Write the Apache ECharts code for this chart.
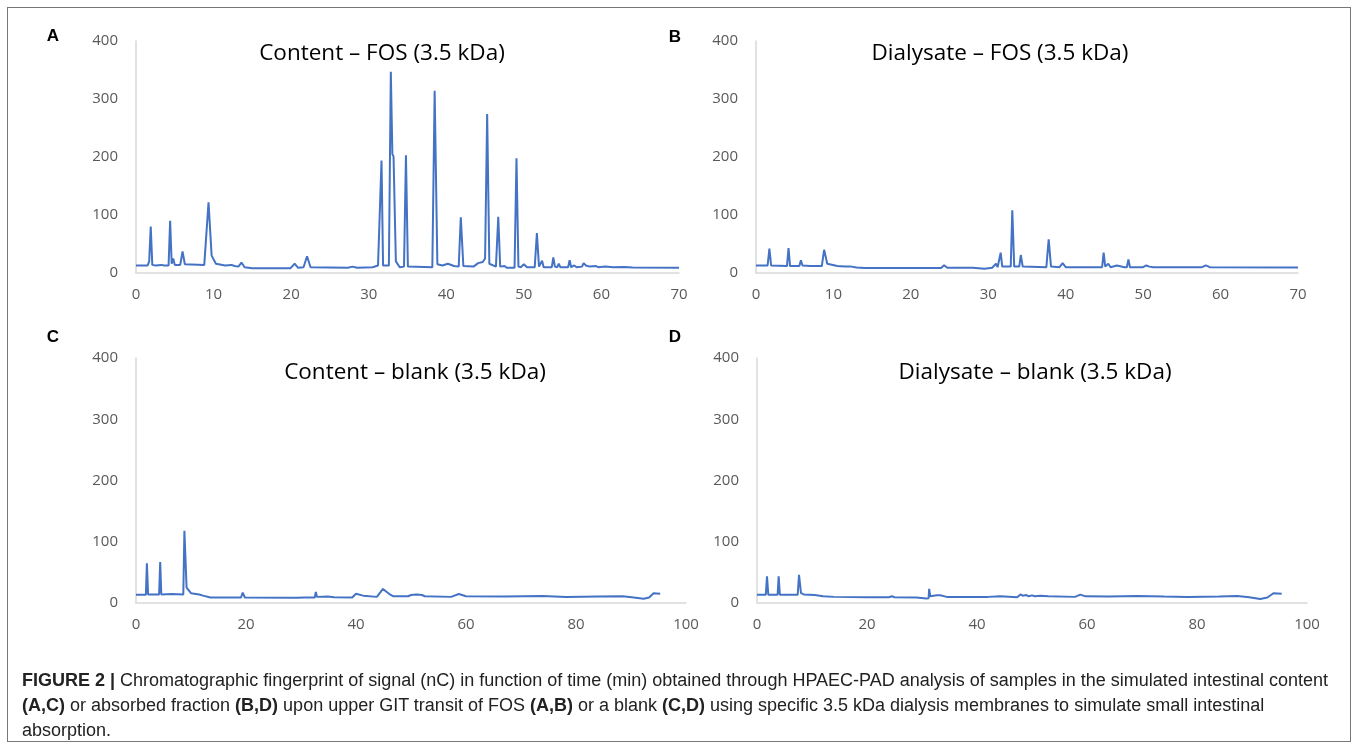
<!DOCTYPE html>
<html>
<head>
<meta charset="utf-8">
<script src="https://cdn.jsdelivr.net/npm/echarts@6/dist/echarts.min.js"></script>
<style>
  html, body { margin: 0; padding: 0; background: #fff; }
  #wrap { position: relative; width: 1358px; height: 750px; }
  #frame {
    position: absolute; left: 7px; top: 7px; width: 1344px; height: 735px;
    border: 1.5px solid #777; box-sizing: border-box;
  }
  #chart { position: absolute; left: 0; top: 0; width: 1358px; height: 750px; }
  #caption {
    position: absolute; left: 22px; top: 668px; width: 1325px;
    font-family: "Liberation Sans", Arial, sans-serif; font-size: 18px;
    line-height: 25px; color: #222; white-space: nowrap;
  }
</style>
</head>
<body>
<div id="wrap">
  <div id="frame"></div>
  <div id="chart"></div>
  <div id="caption"><b>FIGURE 2 |</b> Chromatographic fingerprint of signal (nC) in function of time (min) obtained through HPAEC-PAD analysis of samples in the simulated intestinal content<br><b>(A,C)</b> or absorbed fraction <b>(B,D)</b> upon upper GIT transit of FOS <b>(A,B)</b> or a blank <b>(C,D)</b> using specific 3.5 kDa dialysis membranes to simulate small intestinal<br>absorption.</div>
</div>
<script>
// panel titles / letters
var panelTitles = ['Content – FOS (3.5 kDa)', 'Dialysate – FOS (3.5 kDa)', 'Content – blank (3.5 kDa)', 'Dialysate – blank (3.5 kDa)'];
var panelLetters = ['A', 'B', 'C', 'D'];
var xMaxes = [70, 70, 100, 100];
var xSteps = [10, 10, 20, 20];
var yTicks = [0, 100, 200, 300, 400];

// [time (min), signal (nC)]
var contentFOS = [
  [0,13],[1.5,13],[1.7,20],[1.8,17],[1.9,80],[2.1,14],[2.5,13],[3.3,14],[3.6,13],[4.2,13],[4.4,90],[4.6,16],
  [4.8,25],[5.0,14],[5.7,14],[6.0,37],[6.3,15],[8.8,14],[9.35,122],[9.75,30],[10.3,16],[11.5,13],[12.3,14],
  [12.7,12],[13.2,11],[13.6,18],[14.0,10],[15,8],[19.9,8],[20.45,16],[20.9,9],[21.6,10],[22.05,29],[22.5,10],
  [27.3,9],[27.9,11],[28.5,9],[30.5,10],[31.2,13],[31.45,14],[31.65,194],[31.85,13],[32.6,13],[32.85,347],
  [33.05,205],[33.2,201],[33.5,20],[34.0,10],[34.55,11],[34.8,203],[35.05,11],[38.2,10],[38.5,314],[38.85,15],
  [39.5,13],[40.2,16],[41.0,12],[41.6,11],[41.87,96],[42.2,12],[43.5,11],[44.1,17],[44.7,19],[45.0,25],
  [45.27,274],[45.55,16],[46.4,11],[46.7,97],[46.95,11],[47.5,12],[47.8,9],[48.8,9],[49.05,198],[49.3,11],
  [49.6,10],[50.0,15],[50.4,10],[51.4,10],[51.68,69],[51.95,11],[52.2,10],[52.35,21],[52.55,10],[53.6,10],
  [53.8,27],[54.0,11],[54.3,10],[54.5,16],[54.7,10],[55.7,10],[55.9,22],[56.1,10],[56.5,13],[56.8,10],
  [57.5,11],[57.7,17],[58.0,13],[58.2,15],[58.5,11],[59.3,12],[59.6,10],[60.5,11],[61.5,10],[63,10.5],
  [64,9.5],[70,9]
];
var dialysateFOS = [
  [0,13],[1.5,13],[1.73,42],[1.95,13],[4.0,12],[4.2,43],[4.4,12],[5.6,12],[5.8,22],[6.0,13],[7,12],[8.5,12],
  [8.8,40],[9.2,16],[10.5,12],[11.5,11],[12.3,11],[13,9.5],[14,8.5],[22.1,8.5],[22.3,10],[22.5,8.5],[23.9,8.5],
  [24.3,13.5],[24.7,9],[28,9],[29.5,7.5],[30.5,9],[31.0,16],[31.2,10],[31.45,11],[31.6,35],[31.8,11],[32.9,11],
  [33.1,108],[33.35,11],[34.0,11],[34.2,31],[34.45,11],[37.5,10],[37.8,58],[38.1,11],[39.2,10],[39.6,17],
  [40.0,10],[44.7,10],[44.9,35],[45.1,11],[45.5,16],[45.8,10],[46.6,13],[47.6,10],[47.9,10],[48.1,23.5],
  [48.3,10],[49.4,10],[49.6,12],[50.0,10],[50.4,13],[50.8,11],[51.3,10],[57.6,10],[58.1,13],[58.6,10],[70,9.5]
];
var contentBlank = [
  [0,13.5],[1.8,13.5],[1.98,65],[2.2,14],[4.2,14],[4.4,67],[4.6,14],[6.5,14.5],[8.6,14],[8.8,118],[9.2,25],
  [10,16],[11.5,14],[12.2,12],[13.5,9],[18.2,9],[18.4,11],[18.7,9],[19.1,9],[19.4,17],[19.8,9],[28.7,8.5],
  [28.9,10],[29.2,8.5],[30.8,9],[31.0,12],[31.2,9],[32.5,9],[32.7,18],[32.9,10],[34.9,10.5],[36,9.5],[39.3,9],
  [40.0,15],[41.3,12],[43.8,10],[44.9,23],[46.0,15],[46.8,11],[49.5,11],[50.0,13],[50.3,11],[51.0,14],[51.3,11],
  [52.0,13],[52.5,11],[57.3,10],[58.7,14.7],[60,11],[67,10.5],[74,11.5],[78.2,9.8],[84,10.5],[88.5,11],
  [90.5,9],[92.3,7],[93.3,9],[94.1,16],[95.3,15]
];
var dialysateBlank = [
  [0,13.6],[1.6,13.6],[1.82,43.5],[2.05,13.6],[3.75,13.6],[3.94,43.5],[4.15,13.6],[7.4,13.6],[7.64,46],[8.0,16],
  [8.5,14],[10.5,13],[12,11],[14,10],[20,9.3],[24,9.5],[24.5,11],[25,9.3],[29,9],[30.8,7.5],[31.2,7.8],[31.3,23],
  [31.5,11],[32.7,12.7],[33.3,12.5],[34.5,10],[37.6,10],[42,10],[44.2,11],[47.3,9.5],[47.9,14],[48.3,12],
  [49.0,13],[49.4,11],[50,12.5],[50.5,11],[51.5,12],[53,11],[57.8,10],[58.8,13.6],[59.7,10.9],[64,10.8],
  [69.1,11.6],[74,10.5],[78.2,9.8],[84,10.8],[87.3,11.6],[89.5,9.5],[91.5,6.5],[92.8,9],[93.9,16],[95.4,15]
];
var allData = [contentFOS, dialysateFOS, contentBlank, dialysateBlank];

// grid boxes in px (left, top, width, height)
var grids = [
  { left: 136, top: 41, width: 543, height: 232 },
  { left: 756, top: 41, width: 542, height: 232 },
  { left: 136, top: 358, width: 550, height: 245 },
  { left: 757, top: 358, width: 550, height: 245 }
];
var titlePos = [[382, 54], [1000, 54], [415, 373], [1035, 373]];
var letterPos = [[53, 36], [675, 37], [53, 337], [675, 337]];

var chart = echarts.init(document.getElementById('chart'));

var xAxes = [], yAxes = [], series = [], graphics = [];
for (var i = 0; i < 4; i++) {
  xAxes.push({
    type: 'value', gridIndex: i, min: 0, max: xMaxes[i], interval: xSteps[i],
    axisLine: { show: true, lineStyle: { color: '#d9d9d9', width: 1.5 } },
    axisTick: { show: false },
    splitLine: { show: false },
    axisLabel: { color: '#595959', fontSize: 15, fontFamily: 'Open Sans', margin: 14 }
  });
  yAxes.push({
    type: 'value', gridIndex: i, min: yTicks[0], max: yTicks[yTicks.length - 1], interval: 100,
    axisLine: { show: true, lineStyle: { color: '#d9d9d9', width: 1.5 } },
    axisTick: { show: false },
    splitLine: { show: false },
    axisLabel: { color: '#595959', fontSize: 15, fontFamily: 'Open Sans', margin: 18 }
  });
  series.push({
    type: 'line', xAxisIndex: i, yAxisIndex: i,
    data: allData[i], showSymbol: false, symbol: 'none',
    lineStyle: { color: '#4472c4', width: 2 },
    silent: true
  });
  graphics.push({
    type: 'text', x: titlePos[i][0], y: titlePos[i][1],
    style: { text: panelTitles[i], fill: '#000', font: '22.5px "Open Sans"', textAlign: 'center', textVerticalAlign: 'middle' }
  });
  graphics.push({
    type: 'text', x: letterPos[i][0], y: letterPos[i][1],
    style: { text: panelLetters[i], fill: '#000', font: 'bold 17px "Liberation Sans"', textAlign: 'center', textVerticalAlign: 'middle' }
  });
}

chart.setOption({
  animation: false,
  grid: grids,
  xAxis: xAxes,
  yAxis: yAxes,
  series: series,
  graphic: graphics
});
</script>
</body>
</html>
